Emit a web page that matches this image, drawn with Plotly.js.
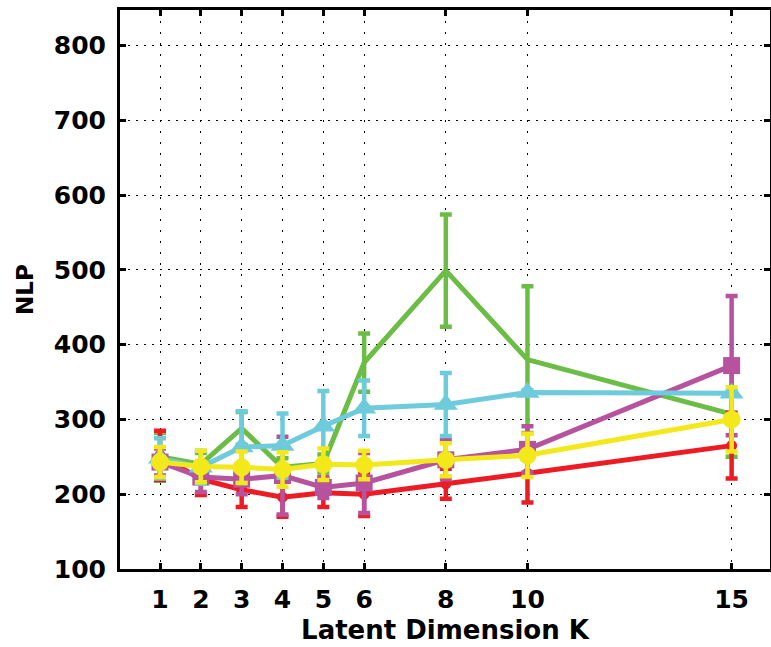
<!DOCTYPE html>
<html><head><meta charset="utf-8">
<script src="https://cdn.plot.ly/plotly-3.0.1.min.js"></script>
<style>html,body{margin:0;padding:0;background:#fff}#chart{width:771px;height:647px}</style>
</head><body><div id="chart"></div>
<script>
// Latent dimension K (x values / tick labels)
const K = [1, 2, 3, 4, 5, 6, 8, 10, 15];
const yTicks = [100, 200, 300, 400, 500, 600, 700, 800];

// NLP means and error half-widths, per series
const redNLP      = [252, 220, 206, 196, 202, 200, 214, 228, 265];
const redErr      = [ 33,  21,  23,  26,  19,  29,  20,  39,  44];
const greenNLP    = [250, 240, 288, 236, 241, 376, 499, 380, 307];
const greenErr    = [ 32,  15,  22,  12,  12,  39,  75,  98,  57];
const magentaNLP  = [243, 223, 220, 225, 209, 215, 246, 260, 372];
const magentaErr  = [ 18,  20,  20,  52,  14,  40,  26,  31,  93];
const cyanNLP     = [248, 236, 263, 265, 291, 315, 320, 336, 335];
const cyanErr     = [ 27,  22,  48,  43,  47,  37,  42,   3,   3];
const yellowNLP   = [243, 237, 236, 233, 240, 239, 246, 252, 300];
const yellowErr   = [ 20,  21,  21,  23,  21,  19,  22,  29,  43];

function series(name, y, err, color, mode, symbol, size) {
  return {
    type: 'scatter', name: name, x: K, y: y, mode: mode,
    line: {color: color, width: 5},
    marker: {color: color, symbol: symbol, size: size, line: {width: 0}},
    error_y: {type: 'data', array: err, visible: true, color: color, thickness: 4.5, width: 6},
    showlegend: false, hoverinfo: 'x+y'
  };
}

const data = [
  series('green', greenNLP, greenErr, '#6cbd45', 'lines', 'circle', 1),
  series('red', redNLP, redErr, '#ed1c24', 'lines+markers', 'circle', 11),
  series('magenta', magentaNLP, magentaErr, '#b7529f', 'lines+markers', 'square', 17),
  series('cyan', cyanNLP, cyanErr, '#6dcbdc', 'lines+markers', 'triangle-up', 21),
  series('yellow', yellowNLP, yellowErr, '#f3e81a', 'lines+markers', 'circle', 18)
];

const tickFont = {family: 'DejaVu Sans', size: 25, color: '#000', weight: 'bold'};
const layout = {
  width: 771, height: 647,
  margin: {l: 120, r: 1, t: 10, b: 78},
  paper_bgcolor: '#fff', plot_bgcolor: '#fff',
  showlegend: false,
  xaxis: {
    range: [0.02, 15.94],
    tickmode: 'array', tickvals: K, ticktext: K.map(String),
    ticks: 'inside', ticklen: 6, tickwidth: 3, tickcolor: '#000',
    showline: true, linewidth: 3, linecolor: '#000', mirror: 'ticks',
    showgrid: true, gridcolor: '#000', gridwidth: 1, griddash: '2px,9px',
    zeroline: false, tickfont: tickFont, ticklabelstandoff: 6,
    title: {text: 'Latent Dimension K', font: {family: 'DejaVu Sans', size: 26, color: '#000', weight: 'bold'}, standoff: 8}
  },
  yaxis: {
    range: [100, 847.5],
    tickmode: 'array', tickvals: yTicks, ticktext: yTicks.map(String),
    ticks: 'inside', ticklen: 6, tickwidth: 3, tickcolor: '#000',
    showline: true, linewidth: 3, linecolor: '#000', mirror: 'ticks',
    showgrid: true, gridcolor: '#000', gridwidth: 1, griddash: '2px,6px',
    zeroline: false, tickfont: tickFont, ticklabelstandoff: 6,
    title: {text: 'NLP', font: {family: 'DejaVu Sans', size: 23, color: '#000', weight: 'bold'}, standoff: 14}
  }
};

Plotly.newPlot('chart', data, layout, {displayModeBar: false, staticPlot: true});
</script>
</body></html>
